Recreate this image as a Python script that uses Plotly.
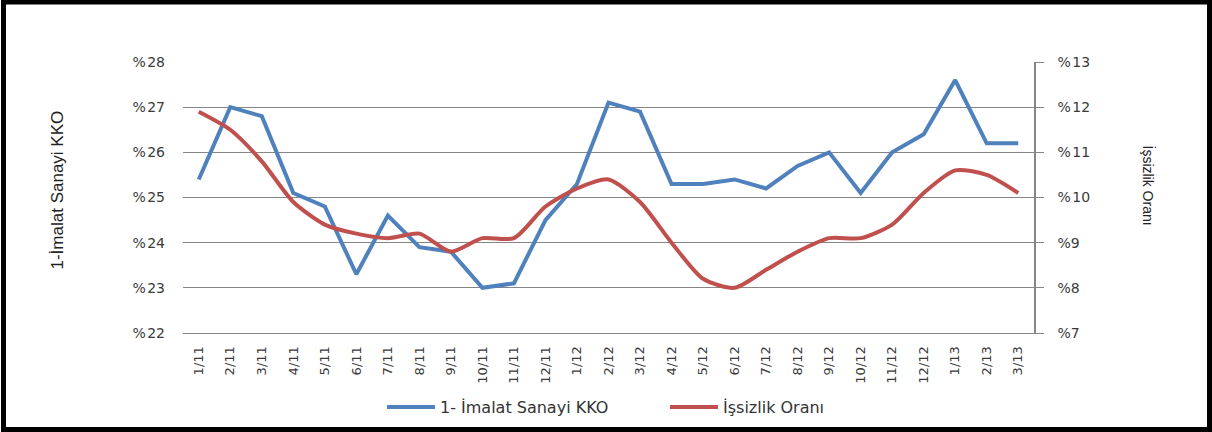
import plotly.graph_objects as go

categories = ["1/11","2/11","3/11","4/11","5/11","6/11","7/11","8/11","9/11","10/11","11/11","12/11",
              "1/12","2/12","3/12","4/12","5/12","6/12","7/12","8/12","9/12","10/12","11/12","12/12",
              "1/13","2/13","3/13"]
kko = [25.4, 27.0, 26.8, 25.1, 24.8, 23.3, 24.6, 23.9, 23.8, 23.0, 23.1, 24.5,
       25.3, 27.1, 26.9, 25.3, 25.3, 25.4, 25.2, 25.7, 26.0, 25.1, 26.0, 26.4,
       27.6, 26.2, 26.2]
issizlik = [11.9, 11.5, 10.8, 9.9, 9.4, 9.2, 9.1, 9.2, 8.8, 9.1, 9.1, 9.8,
            10.2, 10.4, 9.9, 9.0, 8.2, 8.0, 8.4, 8.8, 9.1, 9.1, 9.4, 10.1,
            10.6, 10.5, 10.1]
left_ticks = [22, 23, 24, 25, 26, 27, 28]
left_labels = ["%\u200a22", "%\u200a23", "%\u200a24", "%\u200a25", "%\u200a26", "%\u200a27", "%\u200a28"]
right_ticks = [7, 8, 9, 10, 11, 12, 13]
right_labels = ["%7", "%8", "%9", "%\u200a10", "%\u200a11", "%\u200a12", "%\u200a13"]

W, H = 1212, 432
L, R, T, B = 183, 1034, 62, 333
pw, ph = R - L, B - T

def px(x):
    return (x - L) / pw

def py(y):
    return (B - y) / ph

tick_font = dict(family="DejaVu Sans", size=14, color="#3a3a3a")

fig = go.Figure()
fig.add_trace(go.Scatter(x=categories, y=kko, name="1- İmalat Sanayi KKO", mode="lines",
                         line=dict(color="#4F81BD", width=4), yaxis="y"))
fig.add_trace(go.Scatter(x=categories, y=issizlik, name="İşsizlik Oranı", mode="lines",
                         line=dict(color="#C0504D", width=4, shape="spline", smoothing=0.7),
                         yaxis="y2"))

fig.update_layout(
    width=W, height=H,
    margin=dict(l=L, r=W - R, t=T, b=H - B, autoexpand=False),
    paper_bgcolor="white", plot_bgcolor="white",
    showlegend=True,
    legend=dict(orientation="h", x=px(382), xanchor="left", y=py(407), yanchor="middle",
                font=dict(family="DejaVu Sans", size=16, color="#333333"),
                entrywidth=220, entrywidthmode="pixels", itemwidth=48,
                bgcolor="rgba(0,0,0,0)"),
    xaxis=dict(type="category", range=[-0.5, len(categories) - 0.5],
               tickangle=-90, tickfont=dict(family="DejaVu Sans", size=13, color="#3a3a3a"),
               showgrid=False,
               showline=True, linecolor="#868686", linewidth=1,
               ticks="", ticklabelstandoff=7),
    yaxis=dict(range=[22, 28], tickvals=left_ticks, ticktext=left_labels,
               tickfont=tick_font, showgrid=True, gridcolor="#868686", gridwidth=1,
               showline=False, zeroline=False, ticks="", ticklabelstandoff=17),
    yaxis2=dict(range=[7, 13], tickvals=right_ticks, ticktext=right_labels,
                overlaying="y", side="right", tickfont=tick_font, showgrid=False,
                showline=True, linecolor="#868686", linewidth=1.5, zeroline=False,
                ticks="outside", ticklen=8, tickcolor="#868686", ticklabelstandoff=11),
    annotations=[
        dict(text="1-İmalat Sanayi KKO", xref="paper", yref="paper", x=px(45), y=py(190),
             textangle=-90, showarrow=False, font=dict(family="Liberation Sans", size=17, color="#222222")),
        dict(text="İşsizlik Oranı", xref="paper", yref="paper", x=px(1159), y=py(185),
             textangle=90, showarrow=False, font=dict(family="Liberation Sans", size=14, color="#222222")),
    ],
    shapes=[
        dict(type="rect", xref="paper", yref="paper", x0=px(3.5), x1=px(1209.5), y0=py(429.5), y1=py(2),
             line=dict(color="black", width=5), fillcolor="rgba(0,0,0,0)", layer="above"),
    ],
)

fig.write_html("out.html", config={"displayModeBar": False},
               post_script="document.body.style.margin='0';document.body.style.overflow='hidden';")
